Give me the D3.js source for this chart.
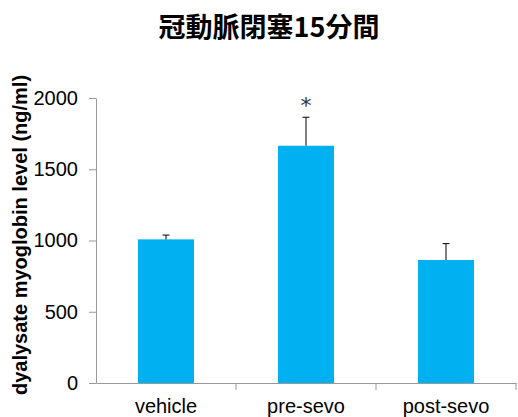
<!DOCTYPE html>
<html lang="en">
<head>
<meta charset="UTF-8">
<title>冠動脈閉塞15分間</title>
<script src="https://d3js.org/d3.v7.min.js"></script>
<style>
  body { margin: 0; background: #fff; }
  text { font-family: Arial, "Liberation Sans", sans-serif; }
</style>
</head>
<body>
<script>
// data
var categories = ["vehicle", "pre-sevo", "post-sevo"];
var means = [1008, 1665, 863];
var errors = [30, 200, 115];
var marks = ["", "*", ""];
var yTicks = [0, 500, 1000, 1500, 2000];

var W = 518, H = 417;
var margin = {top: 98, right: 2, bottom: 34, left: 96};
var width = W - margin.left - margin.right,
    height = H - margin.top - margin.bottom;

var svg = d3.select("body").append("svg")
    .attr("width", W)
    .attr("height", H);

svg.append("text")
    .attr("x", 269)
    .attr("y", 37)
    .attr("text-anchor", "middle")
    .style("font-family", "'Noto Sans CJK JP', sans-serif")
    .style("font-weight", "bold")
    .style("font-size", "27px")
    .text("冠動脈閉塞15分間");

var g = svg.append("g")
    .attr("transform", "translate(" + margin.left + "," + margin.top + ")");

var x = d3.scaleBand().domain(categories).range([0, width]).padding(0);
var y = d3.scaleLinear().domain([0, 2000]).range([height, 0]);
var barW = x.bandwidth() * 0.4;

// bars
g.selectAll(".bar")
    .data(categories)
  .enter().append("rect")
    .attr("class", "bar")
    .attr("x", function(d) { return x(d) + (x.bandwidth() - barW) / 2; })
    .attr("width", barW)
    .attr("y", function(d, i) { return y(means[i]); })
    .attr("height", function(d, i) { return height - y(means[i]); })
    .attr("fill", "#00b0f0");

// upper error bars
var eb = g.selectAll(".err")
    .data(categories)
  .enter().append("g")
    .attr("class", "err")
    .attr("transform", function(d) { return "translate(" + (x(d) + x.bandwidth() / 2) + ",0)"; });
eb.append("line")
    .attr("y1", function(d, i) { return y(means[i]); })
    .attr("y2", function(d, i) { return y(means[i] + errors[i]); })
    .attr("stroke", "#000");
eb.append("line")
    .attr("x1", -3.5).attr("x2", 3.5)
    .attr("y1", function(d, i) { return y(means[i] + errors[i]); })
    .attr("y2", function(d, i) { return y(means[i] + errors[i]); })
    .attr("stroke", "#000");

// significance mark
g.selectAll(".mark")
    .data(categories)
  .enter().append("text")
    .attr("x", function(d) { return x(d) + x.bandwidth() / 2; })
    .attr("y", function(d, i) { return y(means[i] + errors[i]) - 4; })
    .attr("text-anchor", "middle")
    .style("font-family", "'DejaVu Sans', sans-serif")
    .style("font-size", "22px")
    .style("fill", "#333")
    .text(function(d, i) { return marks[i]; });

// y axis
var yAxis = g.append("g")
    .call(d3.axisLeft(y).tickValues(yTicks).tickFormat(d3.format("d"))
      .tickSize(7).tickSizeOuter(0).tickPadding(11));
yAxis.selectAll("text").style("font-size", "20px").style("fill", "#000");

// x axis
var xAxis = g.append("g")
    .attr("transform", "translate(0," + height + ")")
    .call(d3.axisBottom(x).tickSize(0).tickSizeOuter(0).tickPadding(16));
xAxis.selectAll("text").style("font-size", "20px").style("fill", "#000");
xAxis.selectAll(".sep")
    .data(categories)
  .enter().append("line")
    .attr("class", "sep")
    .attr("x1", function(d) { return x(d) + x.bandwidth(); })
    .attr("x2", function(d) { return x(d) + x.bandwidth(); })
    .attr("y1", 0).attr("y2", 7);

g.selectAll(".domain, .tick line, .sep")
    .attr("stroke", "#999");

// y label
svg.append("text")
    .attr("transform", "rotate(-90)")
    .attr("x", -235)
    .attr("y", 27)
    .attr("text-anchor", "middle")
    .style("font-weight", "bold")
    .style("font-size", "20px")
    .text("dyalysate myoglobin level (ng/ml)");
</script>
</body>
</html>
